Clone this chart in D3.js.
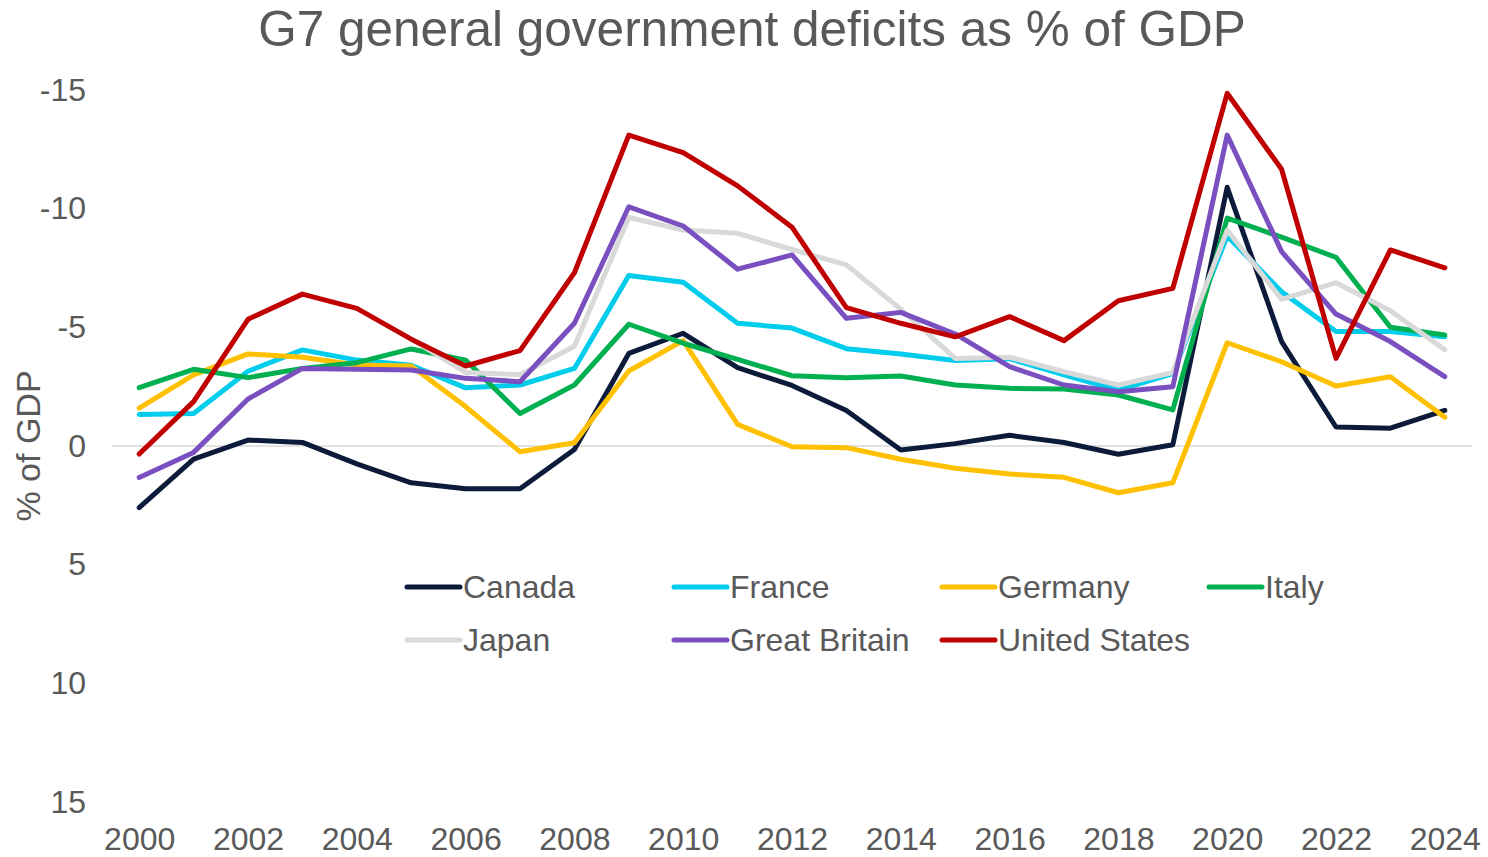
<!DOCTYPE html>
<html>
<head>
<meta charset="utf-8">
<script src="https://cdn.jsdelivr.net/npm/d3@7"></script>
<style>
  html, body { margin: 0; padding: 0; background: #ffffff; }
  svg { display: block; font-family: "Liberation Sans", Arial, sans-serif; }
</style>
</head>
<body>
<svg id="chart" width="1488" height="857"></svg>
<script>
// Years on the category axis
const years = d3.range(2000, 2025);
const tickYears = [2000, 2002, 2004, 2006, 2008, 2010, 2012, 2014, 2016, 2018, 2020, 2022, 2024];
const yTicks = [-15, -10, -5, 0, 5, 10, 15];

// General government balance, % of GDP (deficits negative)
const canada = [2.6, 0.55, -0.25, -0.15, 0.75, 1.55, 1.8, 1.8, 0.15, -3.9, -4.75, -3.3, -2.55, -1.5, 0.17,
                -0.1, -0.45, -0.15, 0.35, -0.05, -10.9, -4.4, -0.8, -0.75, -1.5];
const france = [-1.33, -1.37, -3.15, -4.05, -3.62, -3.4, -2.45, -2.57, -3.27, -7.18, -6.9, -5.17, -4.97, -4.1, -3.88,
                -3.6, -3.68, -3.0, -2.35, -3.05, -8.85, -6.5, -4.82, -4.82, -4.6];
const germany = [-1.6, -3.0, -3.88, -3.74, -3.41, -3.37, -1.66, 0.24, -0.14, -3.16, -4.44, -0.91, 0.03, 0.07, 0.56,
                 0.94, 1.18, 1.32, 1.97, 1.55, -4.35, -3.55, -2.53, -2.92, -1.21];
const italy = [-2.46, -3.23, -2.88, -3.27, -3.51, -4.09, -3.62, -1.37, -2.57, -5.13, -4.33, -3.65, -2.96, -2.88, -2.95,
               -2.57, -2.43, -2.4, -2.15, -1.52, -9.6, -8.8, -7.95, -5.0, -4.68];
const japan = [null, null, null, null, null, -4.5, -3.1, -3.0, -4.2, -9.63, -9.1, -8.96, -8.28, -7.63, -5.76,
               -3.69, -3.74, -3.13, -2.57, -3.09, -9.1, -6.18, -6.88, -5.7, -4.05];
const greatBritain = [1.33, 0.27, -1.98, -3.27, -3.23, -3.2, -2.85, -2.71, -5.17, -10.08, -9.27, -7.45, -8.05, -5.38, -5.63,
                      -4.72, -3.34, -2.57, -2.29, -2.5, -13.1, -8.19, -5.56, -4.4, -2.92];
const unitedStates = [0.34, -1.87, -5.34, -6.4, -5.8, -4.5, -3.37, -4.02, -7.3, -13.1, -12.36, -10.96, -9.22, -5.83, -5.17,
                      -4.6, -5.45, -4.44, -6.12, -6.64, -14.86, -11.66, -3.69, -8.26, -7.51];

const seriesNames = ["Canada", "France", "Germany", "Italy", "Japan", "Great Britain", "United States"];
const seriesValues = [canada, france, germany, italy, japan, greatBritain, unitedStates];
const seriesColors = ["#0c1b3a", "#00cdec", "#ffc000", "#00b050", "#d9d9d9", "#7a4fbf", "#c00000"];

const svg = d3.select("#chart");
const textColor = "#595959";
const labelSize = 32;

const plot = { left: 112, right: 1472, top: 90, bottom: 802 };

const x = d3.scalePoint()
  .domain(years)
  .range([plot.left, plot.right])
  .padding(0.5);

const y = d3.scaleLinear()
  .domain([-15, 15])
  .range([plot.top, plot.bottom]);

// Title
svg.append("text")
  .attr("x", 752)
  .attr("y", 46)
  .attr("text-anchor", "middle")
  .attr("fill", textColor)
  .attr("font-size", 49.5)
  .text("G7 general government deficits as % of GDP");

// Zero line
svg.append("line")
  .attr("x1", plot.left)
  .attr("x2", plot.right)
  .attr("y1", y(0))
  .attr("y2", y(0))
  .attr("stroke", "#d9d9d9")
  .attr("stroke-width", 1.5);

// Y axis labels (plain hyphen for negatives)
const yAxis = d3.axisLeft(y)
  .tickValues(yTicks)
  .tickSize(0)
  .tickPadding(0)
  .tickFormat(d => String(d));
const yG = svg.append("g")
  .attr("transform", `translate(86,0)`)
  .call(yAxis);
yG.select(".domain").remove();
yG.selectAll("text")
  .attr("fill", textColor)
  .attr("font-size", labelSize)
  .attr("font-family", "Liberation Sans, Arial, sans-serif");

// X axis labels
const xAxis = d3.axisBottom(x)
  .tickValues(tickYears)
  .tickSize(0)
  .tickPadding(0)
  .tickFormat(d => String(d));
const xG = svg.append("g")
  .attr("transform", `translate(0,0)`)
  .call(xAxis);
xG.select(".domain").remove();
xG.selectAll("text")
  .attr("y", 850)
  .attr("dy", 0)
  .attr("fill", textColor)
  .attr("font-size", labelSize)
  .attr("font-family", "Liberation Sans, Arial, sans-serif");

// Y axis title
svg.append("text")
  .attr("transform", `translate(28,${y(0)}) rotate(-90)`)
  .attr("text-anchor", "middle")
  .attr("dy", "0.35em")
  .attr("fill", textColor)
  .attr("font-size", 34)
  .text("% of GDP");

// Series lines
const line = d3.line()
  .defined(d => d.v !== null)
  .x(d => x(d.year))
  .y(d => y(d.v));

seriesNames.forEach((name, i) => {
  const pts = years.map((yr, j) => ({ year: yr, v: seriesValues[i][j] }));
  svg.append("path")
    .datum(pts)
    .attr("fill", "none")
    .attr("stroke", seriesColors[i])
    .attr("stroke-width", 5)
    .attr("stroke-linejoin", "round")
    .attr("stroke-linecap", "round")
    .attr("d", line);
});

// Legend
const legendX = [405, 672, 940, 1207];
const legendY = [587, 640];
seriesNames.forEach((name, i) => {
  const gx = legendX[i % 4];
  const gy = legendY[Math.floor(i / 4)];
  const g = svg.append("g").attr("transform", `translate(${gx},${gy})`);
  g.append("line")
    .attr("x1", 2).attr("x2", 55)
    .attr("y1", 0).attr("y2", 0)
    .attr("stroke", seriesColors[i])
    .attr("stroke-width", 5)
    .attr("stroke-linecap", "round");
  g.append("text")
    .attr("x", 58)
    .attr("y", 0)
    .attr("dy", "0.35em")
    .attr("fill", textColor)
    .attr("font-size", labelSize)
    .text(name);
});
</script>
</body>
</html>
